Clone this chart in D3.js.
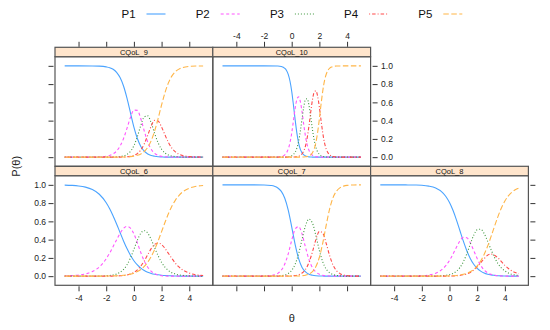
<!DOCTYPE html>
<html>
<head>
<meta charset="utf-8">
<script src="https://cdn.jsdelivr.net/npm/d3@7/dist/d3.min.js"></script>
<style>
  body { margin: 0; background: #fff; }
  svg { display: block; font-family: "Liberation Sans", Arial, sans-serif; }
</style>
</head>
<body>
<svg id="chart" width="550" height="330"></svg>
<script>
// category names and tick values
var cats = ["P1", "P2", "P3", "P4", "P5"];
var xTicks = [-4, -2, 0, 2, 4];
var yTicks = [0, 0.2, 0.4, 0.6, 0.8, 1.0];

// CQoL_6
var theta6 = [-5,-4.5,-4,-3.5,-3,-2.5,-2,-1.75,-1.5,-1.25,-1,-0.75,-0.5,-0.25,0,0.25,0.5,0.75,1,1.25,1.5,1.75,2,2.25,2.5,2.75,3,3.25,3.5,4,4.5,5];
var cqol6 = [
  [.997,.994,.988,.975,.948,.897,.804,.738,.659,.571,.478,.386,.302,.229,.169,.123,.088,.062,.043,.030,.021,.015,.010,.007,.005,.003,.002,.001,.001,.001,0,0],
  [.003,.006,.012,.025,.051,.101,.191,.253,.324,.399,.469,.523,.546,.526,.463,.365,.258,.166,.098,.053,.027,.012,.005,.002,0,0,0,0,0,0,0,0],
  [0,0,0,0,.001,.001,.004,.008,.013,.024,.043,.074,.124,.199,.294,.394,.470,.498,.471,.401,.311,.223,.151,.097,.061,.037,.024,.014,.009,.003,.001,0],
  [0,0,0,0,0,0,0,0,.001,.002,.004,.007,.013,.024,.041,.068,.111,.167,.235,.301,.348,.364,.346,.304,.248,.192,.142,.102,.071,.034,.015,.007],
  [0,0,0,0,0,0,.001,.002,.003,.004,.007,.010,.015,.022,.033,.050,.073,.107,.153,.215,.293,.386,.488,.590,.686,.768,.833,.883,.920,.963,.984,.993]
];

// CQoL_7
var theta7 = [-5,-4,-3,-2,-1.5,-1.25,-1,-0.75,-0.5,-0.25,0,0.25,0.5,0.75,1,1.25,1.5,1.75,2,2.25,2.5,2.75,3,3.25,3.5,3.75,4,4.5,5];
var cqol7 = [
  [1,1,1,.999,.993,.985,.966,.928,.853,.723,.540,.345,.192,.096,.046,.021,.010,.004,.002,.001,0,0,0,0,0,0,0,0,0],
  [0,0,0,.001,.006,.014,.031,.065,.133,.245,.392,.516,.544,.460,.314,.181,.092,.045,.020,.009,.004,.002,.001,0,0,0,0,0,0],
  [0,0,0,0,0,0,.003,.006,.014,.030,.064,.131,.246,.404,.554,.625,.581,.443,.281,.154,.076,.036,.017,.008,.003,.001,.001,0,0],
  [0,0,0,0,0,0,0,0,.001,.002,.003,.007,.016,.035,.075,.150,.267,.403,.490,.469,.355,.220,.117,.058,.027,.012,.006,.001,0],
  [0,0,0,0,0,0,0,0,0,0,0,.001,.002,.005,.011,.023,.050,.105,.207,.367,.564,.742,.865,.934,.969,.986,.994,.999,1]
];

// CQoL_8
var theta8 = [-5,-4.5,-4,-3.5,-3,-2.5,-2,-1.5,-1,-0.5,-0.25,0,0.25,0.5,0.75,1,1.25,1.5,1.75,2,2.25,2.5,2.75,3,3.25,3.5,3.75,4,4.25,4.5,4.75,5];
var cqol8 = [
  [1,1,1,1,.999,.998,.995,.986,.965,.915,.870,.806,.721,.617,.500,.383,.279,.194,.130,.085,.055,.035,.022,.014,.009,.005,.003,.002,.001,.001,.001,0],
  [0,0,0,0,.001,.002,.005,.013,.033,.079,.118,.173,.241,.316,.385,.425,.420,.366,.281,.192,.119,.068,.038,.020,.010,.005,.002,.001,0,0,0,0],
  [0,0,0,0,0,0,0,0,.001,.005,.009,.016,.030,.054,.094,.157,.245,.350,.448,.509,.514,.468,.384,.291,.206,.138,.089,.057,.035,.021,.013,.008],
  [0,0,0,0,0,0,0,0,0,0,.001,.001,.002,.004,.008,.015,.024,.041,.067,.102,.147,.192,.229,.242,.230,.200,.159,.118,.084,.059,.039,.027],
  [0,0,0,0,0,0,0,0,0,.001,.002,.003,.005,.008,.013,.020,.032,.049,.074,.112,.165,.237,.327,.433,.545,.652,.746,.822,.879,.919,.947,.965]
];

// CQoL_9
var theta9 = [-5,-4,-3,-2.5,-2,-1.75,-1.5,-1.25,-1,-0.75,-0.5,-0.25,0,0.25,0.5,0.75,1,1.25,1.5,1.75,2,2.25,2.5,2.75,3,3.25,3.5,4,4.5,5];
var cqol9 = [
  [1,1,.999,.997,.989,.980,.962,.929,.871,.779,.646,.487,.330,.204,.117,.065,.035,.018,.010,.005,.003,.001,.001,0,0,0,0,0,0,0],
  [0,0,.001,.003,.010,.019,.036,.067,.121,.203,.316,.435,.515,.512,.421,.286,.165,.086,.041,.019,.009,.004,.002,.001,0,0,0,0,0,0],
  [0,0,0,0,0,.001,.001,.003,.007,.014,.031,.063,.125,.225,.348,.441,.452,.375,.259,.157,.087,.045,.023,.012,.006,.003,.001,0,0,0],
  [0,0,0,0,0,0,0,.001,.001,.002,.004,.009,.019,.039,.079,.146,.240,.340,.403,.396,.330,.242,.159,.097,.058,.033,.019,.006,.002,.001],
  [0,0,0,0,0,0,0,0,.001,.002,.003,.006,.011,.020,.035,.062,.108,.181,.287,.423,.572,.708,.816,.890,.936,.964,.980,.994,.998,.999]
];

// CQoL_10
var theta10 = [-5,-2,-1,-0.75,-0.5,-0.375,-0.25,-0.125,0,0.125,0.25,0.375,0.5,0.625,0.75,0.875,1,1.125,1.25,1.375,1.5,1.625,1.75,1.875,2,2.125,2.25,2.375,2.5,2.625,2.75,2.875,3,3.25,3.5,4,5];
var cqol10 = [
  [1,1,.998,.993,.973,.950,.907,.834,.722,.572,.408,.263,.155,.086,.047,.025,.013,.007,.003,.002,.001,.001,0,0,0,0,0,0,0,0,0,0,0,0,0,0,0],
  [0,0,.002,.007,.026,.048,.089,.158,.262,.398,.535,.633,.660,.608,.493,.352,.225,.131,.074,.039,.021,.011,.005,.003,.001,.001,0,0,0,0,0,0,0,0,0,0,0],
  [0,0,0,0,.001,.002,.004,.008,.015,.029,.054,.099,.175,.286,.422,.552,.633,.639,.565,.439,.301,.187,.106,.058,.031,.016,.009,.005,.002,.001,.001,0,0,0,0,0,0],
  [0,0,0,0,0,0,0,0,.001,.001,.003,.005,.010,.019,.037,.069,.125,.216,.345,.494,.628,.712,.726,.666,.546,.398,.259,.153,.087,.047,.024,.013,.007,.002,.001,0,0],
  [0,0,0,0,0,0,0,0,0,0,0,0,0,.001,.001,.002,.004,.007,.014,.026,.049,.090,.162,.273,.421,.585,.732,.842,.911,.952,.975,.987,.993,.998,.999,1,1]
];

var colors = ["#4aa3ff", "#ff55ff", "#3f973f", "#ff4a4a", "#ffb547"];
var dashes = [null, "3,2.5", "1,2", "1,2,3.5,2", "5.5,2.5"];

// layout (row 0 = bottom row, as lattice counts)
var left = 55, pw = 157.8, ph = 109.6, sh = 9.4, top0 = 47.3;
var panels = [
  {name: "CQoL_6", th: theta6, p: cqol6, col: 0, row: 0},
  {name: "CQoL_7", th: theta7, p: cqol7, col: 1, row: 0},
  {name: "CQoL_8", th: theta8, p: cqol8, col: 2, row: 0},
  {name: "CQoL_9", th: theta9, p: cqol9, col: 0, row: 1},
  {name: "CQoL_10", th: theta10, p: cqol10, col: 1, row: 1}
];

var svg = d3.select("#chart");

var x = d3.scaleLinear().domain([-5.7, 5.7]).range([0, pw]);
var y = d3.scaleLinear().domain([-0.1, 1.1]).range([ph, 0]);

function stripTop(row) { return top0 + (1 - row) * (sh + ph); }

panels.forEach(function(pn) {
  var px = left + pn.col * pw,
      sy = stripTop(pn.row),
      py = sy + sh;

  var g = svg.append("g").attr("transform", "translate(" + px + "," + py + ")");

  pn.p.forEach(function(vals, k) {
    var line = d3.line()
      .x(function(d, i) { return x(pn.th[i]); })
      .y(function(d) { return y(d); })
      .curve(d3.curveMonotoneX);
    g.append("path")
      .datum(vals)
      .attr("d", line)
      .attr("fill", "none")
      .attr("stroke", colors[k])
      .attr("stroke-width", 1.1)
      .attr("stroke-dasharray", dashes[k]);
  });

  g.append("rect")
    .attr("width", pw).attr("height", ph)
    .attr("fill", "none").attr("stroke", "#555").attr("stroke-width", 1.2);

  // strip
  svg.append("rect")
    .attr("x", px).attr("y", sy).attr("width", pw).attr("height", sh)
    .attr("fill", "#ffe5cc").attr("stroke", "#555").attr("stroke-width", 1.2);
  svg.append("text")
    .attr("x", px + pw / 2).attr("y", sy + sh / 2)
    .attr("dy", "0.35em")
    .attr("text-anchor", "middle")
    .attr("font-size", 7.5)
    .attr("fill", "#111")
    .text(pn.name);
});

function styleAxis(sel) {
  sel.select(".domain").remove();
  sel.selectAll(".tick line").attr("stroke", "#333");
  sel.selectAll(".tick text").attr("fill", "#222").attr("font-size", 8.5)
    .attr("font-family", "\"Liberation Sans\", Arial, sans-serif");
}
var fmtX = function(d) { return String(d); };
var fmtY = d3.format(".1f");

// left axes
svg.append("g").attr("transform", "translate(" + (left - 1.5) + "," + (stripTop(0) + sh) + ")")
  .call(d3.axisLeft(y).tickValues(yTicks).tickSize(5).tickPadding(2.5).tickFormat(fmtY))
  .call(styleAxis);
svg.append("g").attr("transform", "translate(" + (left - 1.5) + "," + (stripTop(1) + sh) + ")")
  .call(d3.axisLeft(y).tickValues(yTicks).tickSize(5).tickFormat(""))
  .call(styleAxis);

// right axes
svg.append("g").attr("transform", "translate(" + (left + 2 * pw + 2) + "," + (stripTop(1) + sh) + ")")
  .call(d3.axisRight(y).tickValues(yTicks).tickSize(5).tickPadding(3.5).tickFormat(fmtY))
  .call(styleAxis);
svg.append("g").attr("transform", "translate(" + (left + 3 * pw + 2) + "," + (stripTop(0) + sh) + ")")
  .call(d3.axisRight(y).tickValues(yTicks).tickSize(5).tickFormat(""))
  .call(styleAxis);

// bottom axes
[0, 1, 2].forEach(function(c) {
  svg.append("g").attr("transform", "translate(" + (left + c * pw) + "," + (stripTop(0) + sh + ph + 1) + ")")
    .call(d3.axisBottom(x).tickValues(xTicks).tickSize(5).tickPadding(4).tickFormat(c === 1 ? "" : fmtX))
    .call(styleAxis);
});

// top axes
[0, 1].forEach(function(c) {
  svg.append("g").attr("transform", "translate(" + (left + c * pw) + "," + (top0 - 0.5) + ")")
    .call(d3.axisTop(x).tickValues(xTicks).tickSize(5).tickPadding(2.5).tickFormat(c === 1 ? fmtX : ""))
    .call(styleAxis);
});

// axis titles
svg.append("text")
  .attr("x", left + 1.5 * pw).attr("y", 322)
  .attr("text-anchor", "middle").attr("font-size", 11).attr("fill", "#222")
  .text("\u03b8");
svg.append("text")
  .attr("transform", "translate(20," + (top0 + sh + ph) + ") rotate(-90)")
  .attr("text-anchor", "middle").attr("font-size", 11).attr("fill", "#222")
  .text("P(\u03b8)");

// legend
var legend = svg.append("g").selectAll("g")
  .data(cats)
  .enter().append("g")
    .attr("transform", function(d, i) { return "translate(" + (121.5 + i * 74.2) + ",14)"; });

legend.append("text")
  .attr("dy", "0.36em")
  .attr("font-size", 11.5)
  .attr("fill", "#111")
  .text(function(d) { return d; });

legend.append("line")
  .attr("x1", 25).attr("x2", 44)
  .attr("stroke", function(d, i) { return colors[i]; })
  .attr("stroke-width", 1.1)
  .attr("stroke-dasharray", function(d, i) { return dashes[i]; });
</script>
</body>
</html>
